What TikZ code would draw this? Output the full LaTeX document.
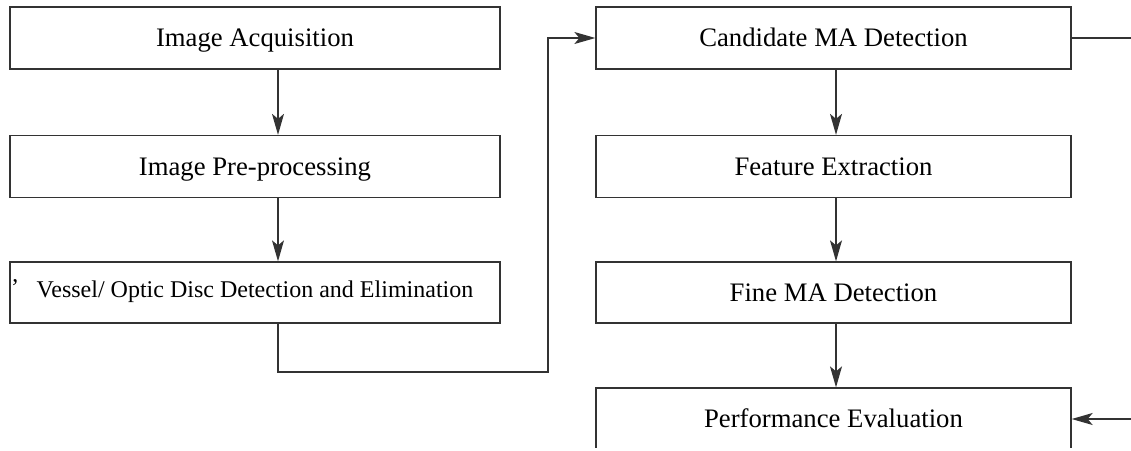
\documentclass[tikz,border=0pt]{standalone}
\usepackage{fontspec}
\setmainfont{Liberation Serif}
\usetikzlibrary{arrows.meta}
\begin{document}
\begin{tikzpicture}[x=1pt,y=-1pt,
  box/.style={draw=black!80,line width=1.3pt,rectangle,inner sep=0pt,
    text height=17.5pt,text depth=0pt,
    font=\fontsize{26.7}{30}\selectfont},
  lbox/.style={box,minimum width=490pt,minimum height=62pt},
  rbox/.style={box,minimum width=475pt,minimum height=62pt},
  conn/.style={draw=black!80,line width=1.3pt},
  arr/.style={conn,-{Stealth[length=21pt,width=12pt,inset=5pt]}}]
\useasboundingbox (0,0) rectangle (1131,450);
\clip (0,0) rectangle (1131,447.5);
% left column
\node[lbox] (L1) at (255,38) {Image Acquisition};
\node[lbox] (L2) at (255,166.5) {Image Pre-processing};
\node[lbox,minimum height=61pt,font=\fontsize{24}{28}\selectfont,text height=15pt,text depth=6pt] (L3) at (255,292.5) {Vessel/ Optic Disc Detection and Elimination};
\node[font=\fontsize{24}{28}\selectfont,inner sep=0pt,anchor=north] (tick) at (15,279) {’};
% right column
\node[rbox] (R1) at (833.5,38) {Candidate MA Detection};
\node[rbox] (R2) at (833.5,166.5) {Feature Extraction};
\node[rbox,minimum height=61pt] (R3) at (833.5,292.5) {Fine MA Detection};
\node[rbox] (R4) at (833.5,419) {Performance Evaluation};
% left arrows
\draw[arr] ([xshift=23pt]L1.south) -- ([xshift=23pt]L2.north);
\draw[arr] ([xshift=23pt]L2.south) -- ([xshift=23pt]L3.north);
% connector L3 -> R1
\coordinate (c1) at (278,372);
\coordinate (c2) at (548,372);
\draw[arr] ([xshift=23pt]L3.south) -- (c1) -- (c2) |- (R1.west);
% right arrows
\draw[arr] ([xshift=2.5pt]R1.south) -- ([xshift=2.5pt]R2.north);
\draw[arr] ([xshift=2.5pt]R2.south) -- ([xshift=2.5pt]R3.north);
\draw[arr] ([xshift=2.5pt]R3.south) -- ([xshift=2.5pt]R4.north);
% right edge lines
\coordinate (e1) at (1131,38);
\coordinate (e2) at (1131,419);
\draw[conn] (R1.east) -- (e1);
\draw[arr] (e2) -- (R4.east);
\end{tikzpicture}
\end{document}
